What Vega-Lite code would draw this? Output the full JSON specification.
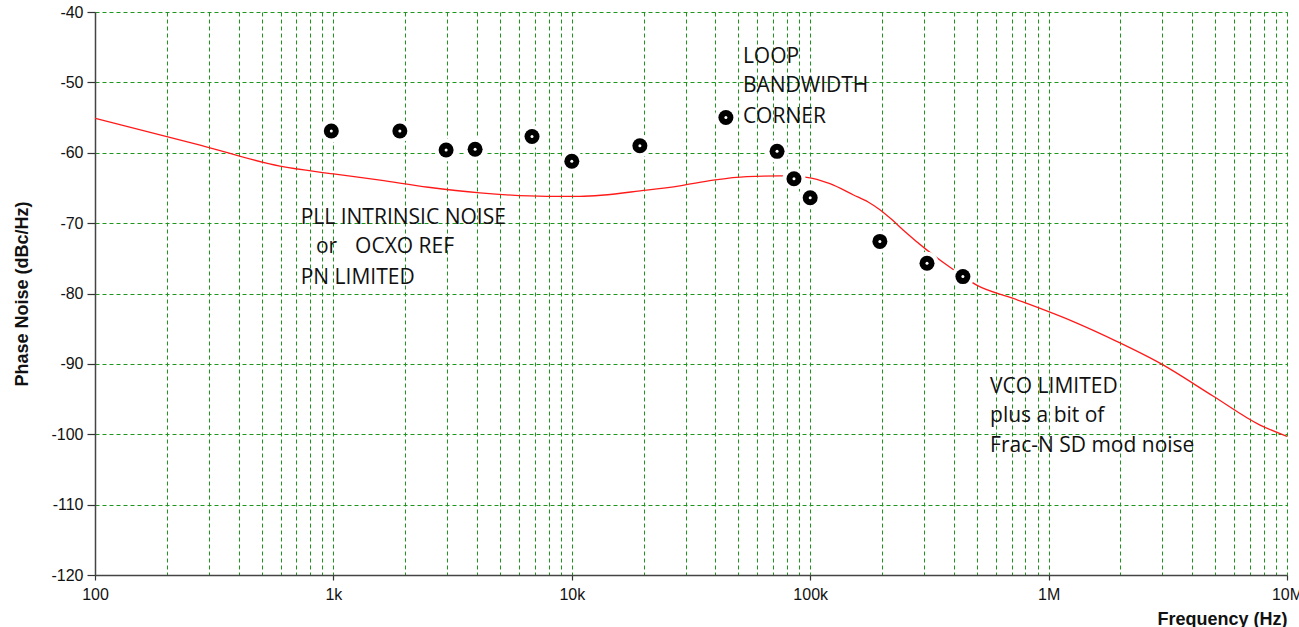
{
  "$schema": "https://vega.github.io/schema/vega-lite/v6.json",
  "autosize": "none",
  "width": 1192,
  "height": 563,
  "padding": {"left": 95, "top": 12, "right": 12, "bottom": 52},
  "background": "white",
  "config": {
    "view": {"stroke": null},
    "axis": {
      "labelFont": "Liberation Sans",
      "labelFontSize": 16,
      "labelColor": "#111",
      "titleFont": "Liberation Sans",
      "titleFontSize": 18,
      "titleFontWeight": "bold",
      "titleColor": "#111",
      "gridColor": "#1e961e",
      "gridDash": [4, 3],
      "gridWidth": 1,
      "gridOpacity": 1,
      "domainColor": "#444",
      "domainWidth": 1.5,
      "tickColor": "#333",
      "tickWidth": 1.2
    }
  },
  "datasets": {
    "curve": [
      {"f": 100, "v": -55.1},
      {"f": 276, "v": -58.9},
      {"f": 597, "v": -61.9},
      {"f": 1000, "v": -63.0},
      {"f": 1570, "v": -63.9},
      {"f": 2500, "v": -64.9},
      {"f": 4120, "v": -65.7},
      {"f": 7850, "v": -66.2},
      {"f": 10800, "v": -66.2},
      {"f": 20600, "v": -65.3},
      {"f": 28400, "v": -64.7},
      {"f": 39200, "v": -63.9},
      {"f": 54200, "v": -63.4},
      {"f": 74700, "v": -63.3},
      {"f": 96700, "v": -63.5},
      {"f": 121000, "v": -64.4},
      {"f": 152000, "v": -66.0},
      {"f": 175000, "v": -67.0},
      {"f": 196000, "v": -68.1},
      {"f": 220000, "v": -69.5},
      {"f": 246000, "v": -71.0},
      {"f": 308000, "v": -73.8},
      {"f": 398000, "v": -76.6},
      {"f": 499000, "v": -78.8},
      {"f": 711000, "v": -80.7},
      {"f": 1270000, "v": -84.0},
      {"f": 1930000, "v": -86.8},
      {"f": 2930000, "v": -89.9},
      {"f": 4910000, "v": -94.6},
      {"f": 7710000, "v": -98.7},
      {"f": 10000000, "v": -100.3}
    ],
    "points": [
      {"f": 980, "v": -56.9},
      {"f": 1900, "v": -56.9},
      {"f": 2970, "v": -59.6},
      {"f": 3930, "v": -59.5},
      {"f": 6810, "v": -57.7},
      {"f": 10000, "v": -61.2},
      {"f": 19300, "v": -59.0},
      {"f": 44300, "v": -55.0},
      {"f": 72600, "v": -59.8},
      {"f": 85500, "v": -63.7},
      {"f": 100000, "v": -66.4},
      {"f": 196000, "v": -72.6},
      {"f": 309000, "v": -75.7},
      {"f": 437000, "v": -77.6}
    ],
    "notes": [
      {"f": 729, "v": -70.1, "label": "PLL INTRINSIC NOISE"},
      {"f": 845, "v": -74.3, "label": "or"},
      {"f": 1233, "v": -74.3, "label": "OCXO REF"},
      {"f": 729, "v": -78.6, "label": "PN LIMITED"},
      {"f": 52200, "v": -47.2, "label": "LOOP"},
      {"f": 52200, "v": -51.4, "label": "BANDWIDTH"},
      {"f": 52200, "v": -55.8, "label": "CORNER"},
      {"f": 568000, "v": -94.1, "label": "VCO LIMITED"},
      {"f": 568000, "v": -98.2, "label": "plus a bit of"},
      {"f": 568000, "v": -102.5, "label": "Frac-N SD mod noise"}
    ]
  },
  "layer": [
    {
      "data": {"name": "curve"},
      "mark": {"type": "line", "color": "#ff1a1a", "strokeWidth": 1.3, "interpolate": "monotone"},
      "encoding": {
        "x": {
          "field": "f",
          "type": "quantitative",
          "scale": {"type": "log", "domain": [100, 10000000], "nice": false},
          "axis": {
            "title": "Frequency (Hz)",
            "titleAnchor": "end",
            "titleAlign": "right",
            "titleBaseline": "top",
            "titleY": 35,
            "values": [100, 200, 300, 400, 500, 600, 700, 800, 900,
                       1000, 2000, 3000, 4000, 5000, 6000, 7000, 8000, 9000,
                       10000, 20000, 30000, 40000, 50000, 60000, 70000, 80000, 90000,
                       100000, 200000, 300000, 400000, 500000, 600000, 700000, 800000, 900000,
                       1000000, 2000000, 3000000, 4000000, 5000000, 6000000, 7000000, 8000000, 9000000,
                       10000000],
            "labelExpr": "datum.value == 100 ? '100' : datum.value == 1000 ? '1k' : datum.value == 10000 ? '10k' : datum.value == 100000 ? '100k' : datum.value == 1000000 ? '1M' : datum.value == 10000000 ? '10M' : ''",
            "labelFlush": false,
            "labelOverlap": false,
            "labelBound": false,
            "labelPadding": 6,
            "tickSize": 5,
            "tickOpacity": {"condition": {"test": "indexof([100, 1000, 10000, 100000, 1000000, 10000000], datum.value) >= 0", "value": 1}, "value": 0},
            "grid": true
          }
        },
        "y": {
          "field": "v",
          "type": "quantitative",
          "scale": {"domain": [-120, -40], "nice": false},
          "axis": {
            "title": "Phase Noise (dBc/Hz)",
            "values": [-120, -110, -100, -90, -80, -70, -60, -50, -40],
            "labelExpr": "'' + datum.value",
            "tickSize": 8,
            "labelPadding": 4,
            "titleX": -73,
            "titleY": 281.5,
            "titleBaseline": "middle",
            "titleAlign": "center",
            "grid": true
          }
        }
      }
    },
    {
      "data": {"name": "points"},
      "mark": {"type": "point", "shape": "circle", "filled": true, "color": "white", "size": 529, "opacity": 1},
      "encoding": {
        "x": {"field": "f", "type": "quantitative"},
        "y": {"field": "v", "type": "quantitative"}
      }
    },
    {
      "data": {"name": "points"},
      "mark": {"type": "point", "shape": "circle", "filled": true, "color": "black", "size": 225, "opacity": 1},
      "encoding": {
        "x": {"field": "f", "type": "quantitative"},
        "y": {"field": "v", "type": "quantitative"}
      }
    },
    {
      "data": {"name": "points"},
      "mark": {"type": "point", "shape": "circle", "filled": true, "color": "white", "size": 9, "opacity": 1},
      "encoding": {
        "x": {"field": "f", "type": "quantitative"},
        "y": {"field": "v", "type": "quantitative"}
      }
    },
    {
      "data": {"name": "notes"},
      "mark": {"type": "text", "align": "left", "baseline": "alphabetic", "font": "Open Sans", "fontSize": 21, "color": "#111"},
      "encoding": {
        "x": {"field": "f", "type": "quantitative"},
        "y": {"field": "v", "type": "quantitative"},
        "text": {"field": "label"}
      }
    }
  ]
}
